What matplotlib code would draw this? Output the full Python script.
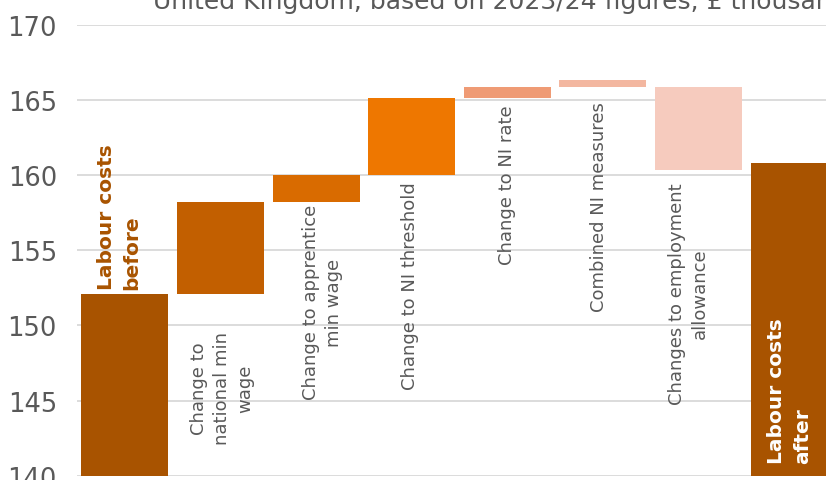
import matplotlib
matplotlib.use("Agg")
import matplotlib.pyplot as plt

# Waterfall of employer labour costs, £ thousand
categories = [
    "Labour costs\nbefore",
    "Change to\nnational min\nwage",
    "Change to apprentice\nmin wage",
    "Change to NI threshold",
    "Change to NI rate",
    "Combined NI measures",
    "Changes to employment\nallowance",
    "Labour costs\nafter",
]
bar_low = [0.0, 152.10, 158.22, 160.00, 165.12, 165.88, 160.37, 0.0]
bar_high = [152.10, 158.22, 160.00, 165.12, 165.88, 166.34, 165.88, 160.82]
bar_colors = ["#A85300", "#C25F00", "#D96B00", "#EE7700",
              "#EF9B75", "#F3B7A0", "#F6CBBE", "#A85300"]
y_ticks = [140, 145, 150, 155, 160, 165, 170]
subtitle = "United Kingdom, based on 2023/24 figures, £ thousand"

# label placement (text top in data units, horizontal nudge in category units)
label_top = [None, 149.62, 158.08, 159.61, 164.74, 164.94, 159.54, None]
label_dx = [0.0, 0.015, 0.07, -0.02, 0.0, -0.04, -0.11, 0.0]

plt.rcParams["font.family"] = ["DejaVu Sans"]
grey = "#595959"

fig = plt.figure(figsize=(8.26, 4.81), dpi=100)
ax = fig.add_axes([77 / 826, 4.3 / 481, 765 / 826, 450.7 / 481])

x = list(range(len(categories)))
heights = [h - l for l, h in zip(bar_low, bar_high)]
ax.bar(x, heights, bottom=bar_low, width=0.91, color=bar_colors, zorder=2)

ax.set_xlim(-0.5, len(categories) - 0.5)
ax.set_ylim(140, 170)
ax.set_yticks(y_ticks)
ax.set_yticklabels([str(t) for t in y_ticks])
ax.set_xticks([])
ax.yaxis.grid(True, color="#D9D9D9", linewidth=1.3, zorder=0)
ax.set_axisbelow(True)
for s in ax.spines.values():
    s.set_visible(False)
ax.tick_params(axis="y", length=0, pad=14.4, labelsize=18.5, labelcolor=grey)

# category labels under the floating bars
for i in range(1, len(categories) - 1):
    ax.text(i + label_dx[i], label_top[i], categories[i], rotation=90,
            ha="center", va="top", multialignment="center",
            fontsize=13, color=grey, linespacing=1.35, zorder=3)

# totals
ax.text(0 - 0.06, bar_high[0] + 0.3, categories[0], rotation=90,
        ha="center", va="bottom", multialignment="left",
        fontsize=14.5, fontweight="bold", color=bar_colors[0],
        linespacing=1.45, zorder=3)
ax.text(7 - 0.05, 140.85, categories[7], rotation=90,
        ha="center", va="bottom", multialignment="left",
        fontsize=14.5, fontweight="bold", color="white",
        linespacing=1.45, zorder=3)

fig.text(153 / 826, 1 - 9.3 / 481, subtitle, ha="left", va="baseline",
         fontsize=18, color=grey)

fig.savefig("out.png", dpi=100)
